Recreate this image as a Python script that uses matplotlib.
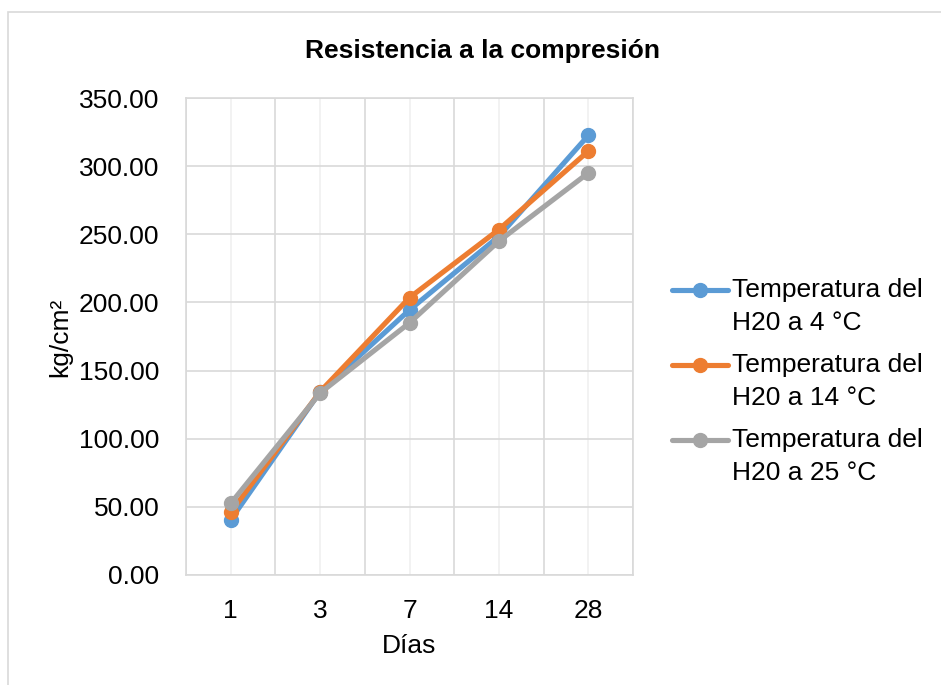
"""Resistencia a la compresión: línea por temperatura del agua."""

import matplotlib.pyplot as plt
from matplotlib.lines import Line2D
from matplotlib.patches import Rectangle
import numpy as np

DIAS = ["1", "3", "7", "14", "28"]
T4 = [40.5, 134.5, 194.5, 248.5, 322.5]
T14 = [46.0, 134.5, 203.5, 253.5, 311.0]
T25 = [52.5, 133.5, 185.0, 245.0, 295.0]
SERIES = [
    ("Temperatura del", "H20 a 4 °C", T4, "#5B9BD5"),
    ("Temperatura del", "H20 a 14 °C", T14, "#ED7D31"),
    ("Temperatura del", "H20 a 25 °C", T25, "#A5A5A5"),
]

GRID = "#D9D9D9"
GRID_MINOR = "#F0F0F0"
INK = "#000000"

W, H = 941, 685
plt.rcParams["font.family"] = ["Liberation Sans", "DejaVu Sans"]

fig = plt.figure(figsize=(W / 100, H / 100), dpi=100)
fig.patch.set_facecolor("white")

# chart border (only top and left visible in the reference crop)
fig.add_artist(Rectangle((8 / W, -0.2), 1.5, 1.2 - 12 / H, transform=fig.transFigure,
                         fill=False, edgecolor=GRID, linewidth=1.2))

ax = fig.add_axes([186 / W, 1 - 575 / H, (633 - 186) / W, (575 - 98) / H])
x = np.arange(len(DIAS))
for _, _, vals, color in SERIES:
    ax.plot(x, vals, color=color, linewidth=3.7, marker="o", markersize=10,
            solid_capstyle="round", zorder=3)

ax.set_xlim(-0.5, len(DIAS) - 0.5)
ax.set_ylim(0, 350)
ax.set_yticks(np.arange(0, 351, 50), [f"{v:.2f}" for v in np.arange(0, 351, 50)])
ax.set_xticks(np.arange(-0.5, len(DIAS)), [""] * (len(DIAS) + 1))
ax.set_xticks(x, DIAS, minor=True)
ax.tick_params(axis="both", which="both", length=0, labelsize=19, colors=INK)
ax.tick_params(axis="y", pad=19)
ax.tick_params(axis="x", which="minor", pad=17)
ax.grid(axis="y", color=GRID, linewidth=1.2, zorder=0)
ax.grid(axis="x", which="major", color=GRID, linewidth=1.2, zorder=0)
ax.grid(axis="x", which="minor", color=GRID_MINOR, linewidth=1.2, zorder=0)
for sp in ax.spines.values():
    sp.set_color(GRID)
    sp.set_linewidth(1.2)

fig.text(60 / W, 1 - 337 / H, "kg/cm²", rotation=90, ha="center", va="center",
         fontsize=19, color=INK)
fig.text(409 / W, 1 - 646 / H, "Días", ha="center", va="center", fontsize=19, color=INK)
fig.text(482 / W, 1 - 51 / H, "Resistencia a la compresión", ha="center", va="center",
         fontsize=19, fontweight="bold", color=INK)

# legend, drawn by hand so the key sits on the first text line
for i, (line1, line2, _, color) in enumerate(SERIES):
    yc = 290 + 75 * i
    fig.add_artist(Line2D([672 / W, 728 / W], [1 - yc / H] * 2, transform=fig.transFigure,
                          color=color, linewidth=3.7, solid_capstyle="round"))
    fig.add_artist(Line2D([700 / W], [1 - yc / H], transform=fig.transFigure, color=color,
                          marker="o", markersize=10, linestyle="none"))
    fig.text(732 / W, 1 - yc / H, line1, ha="left", va="center", fontsize=19, color=INK)
    fig.text(732 / W, 1 - (yc + 33) / H, line2, ha="left", va="center", fontsize=19, color=INK)

fig.savefig("out.png", dpi=100)
